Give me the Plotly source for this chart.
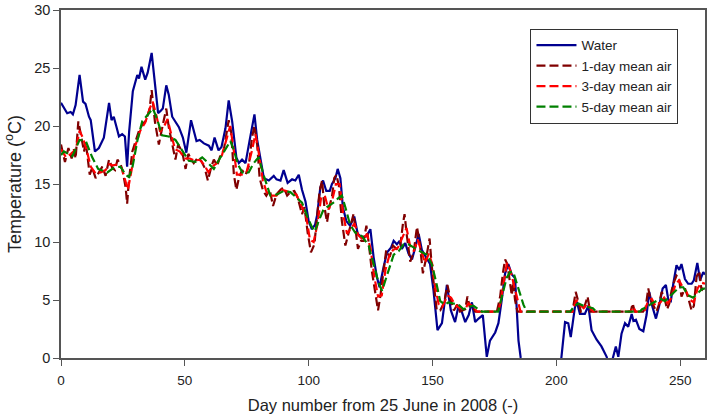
import plotly.graph_objects as go

# ---- Water temperature (day, value) ----
water_day = [0, 2.5, 3.9, 4.8, 5.9, 7.5, 8.9, 9.9, 11.3, 12, 13.7, 15.3, 17.3, 19.4, 20.4, 21.3, 22.3, 23.4, 24.7, 25.8,
             26.7, 27.5, 29, 30.8, 31.5, 32.5, 34, 35, 36.6, 38.2, 39.2, 40.2, 41.1, 42.5, 43.5, 44.9, 46.2, 47.6, 49.2,
             50.6, 52.5, 54.7, 56, 57.7, 59.7, 60.8, 62, 63.6, 64.8, 66.4, 67.7, 69.1, 70.8, 71.8, 73.1, 74.5, 76.1,
             78.1, 79.2, 80.5, 81.9, 83.9, 85.9, 87, 88.6, 89.9, 91.5, 93.3, 94.6, 96, 97.3, 98.7, 100, 101.3, 102.6,
             103.4, 104.7, 105.8, 107.1, 108.5, 109.4, 110.8, 111.7, 112.8, 113.8, 115.2, 116.7, 118.4, 119.8, 121.5,
             123.3, 124.9, 126.2, 127.5, 128.6, 130.2, 131.6, 133.2, 134.3, 135.6, 136.7, 137.6, 139, 140.3, 141.7,
             143, 144.4, 145.7, 147.5, 149, 150.4, 152, 153.8, 155.8, 157.4, 159.1, 160.5, 161.8, 163.2, 164.6, 165.9,
             167.2, 168.6, 170.3, 171.9, 173.2, 175.3, 176.6, 178, 179.3, 180.6, 182, 183.3, 184.7, 185.6, 187, 195,
             201, 202, 203.5, 204.8, 205.8, 207.5, 208.3, 209.5, 211.5, 212.9, 214.2, 216.2, 218.2, 220.3, 221.5,
             222.8, 224, 225, 226.3, 227.7, 229, 230.4, 231.1, 232.1, 233.5, 235.1, 236.4, 237.5, 238.8, 240.2,
             241.5, 242.9, 244.2, 245.2, 246.2, 247.2, 248.5, 249.6, 250.5, 251.9, 253.2, 254.6, 255.5, 256.9, 258,
             259.3, 260]
water_val = [22.0, 21.1, 21.2, 21.0, 21.8, 24.4, 22.1, 21.9, 20.8, 20.5, 17.8, 18.1, 19.0, 22.0, 20.5, 20.8, 20.0, 19.1, 19.3, 19.1,
             16.5, 19.5, 23.0, 24.4, 24.1, 25.1, 24.0, 24.6, 26.3, 22.7, 21.1, 21.3, 21.5, 23.5, 22.7, 20.8, 20.4, 19.9, 19.0,
             17.7, 20.5, 18.7, 18.8, 18.5, 18.3, 17.9, 19.0, 17.9, 18.2, 19.8, 22.2, 20.4, 17.3, 16.8, 17.1, 16.8, 18.7,
             21.0, 18.8, 17.3, 15.5, 15.3, 15.7, 15.4, 15.3, 16.2, 15.1, 15.4, 15.3, 15.8, 14.5, 13.5, 11.8, 11.1, 11.5,
             12.3, 14.7, 15.3, 14.4, 14.4, 15.0, 15.5, 16.3, 15.5, 13.0, 11.8, 11.4, 12.2, 10.7, 10.4,
             10.5, 11.1, 8.7, 7.0, 6.1, 7.8, 9.1, 9.5, 10.1, 9.8, 10.1, 9.4, 9.9, 9.0, 8.5,
             9.5, 10.7, 9.3, 8.6, 8.1, 5.8, 2.4, 3.0, 6.3, 4.1, 3.1, 4.5, 4.0, 3.1, 3.7, 4.8,
             3.1, 3.4, 3.7, 0.1, 1.5, 2.2, 3.0, 5.1, 7.3, 8.1, 7.2, 6.9, 1.5, 0.0, -1.5, -2.0,
             -0.5, 0.0, 3.1, 3.0, 1.8, 4.4, 4.8, 3.8, 3.8, 4.5, 2.4, 1.6, 1.0, 0.1, -1.0,
             0.0, 1.0, 0.1, 2.1, 3.0, 2.7, 3.8, 3.2, 3.3, 2.5, 2.3, 3.7, 5.7, 4.4, 3.4,
             4.5, 6.0, 6.3, 5.0, 4.9, 6.4, 8.0, 7.6, 8.1, 6.8, 6.4, 6.4, 6.7, 8.2, 6.7,
             7.4, 7.2]

# ---- 1-day mean air temperature ----
air1_day = [0, 1.6, 3, 4.3, 5.2, 5.9, 7, 8.4, 9.3, 10, 11.6, 12.6, 14, 15.3, 16.7, 18, 19.4, 20.7, 21.8, 22.8, 24.2, 24.9,
            26.1, 26.7, 27.4, 28.8, 30.4, 31.5, 32.8, 34.4, 35.8, 36.6, 37.9, 39.5, 41.1, 42.5, 43.5, 44.9, 46.2, 47.3,
            48.9, 50.3, 51.4, 52.3, 53.6, 55, 56.6, 58, 59.3, 60.7, 61.7, 63.1, 64.4, 65.7, 66.8, 67.7, 68.7, 69.8,
            70.8, 71.8, 73.1, 74.5, 75.8, 77.1, 78.1, 79.2, 80.2, 81.6, 82.9, 84.3, 85.6, 87, 88.6, 89.9, 91.3, 92.6,
            94.2, 95.6, 97.3, 98.3, 99.6, 100.9, 102.3, 103.4, 104.4, 105.4, 106.3, 107.4, 108.5, 109.4, 110.3, 111.2,
            112.2, 113.4, 114.8, 115.9, 117.1, 118.1, 119.2, 119.9, 121.1, 122.2, 123.3, 124.2, 125.5, 126.9, 128,
            128.9, 130.2, 131.3, 132.7, 134, 135.6, 137, 138, 138.7, 139.6, 141, 142.4, 143.7, 144.8, 146.1, 147.5,
            148.8, 149.7, 150.7, 151.7, 153.1, 154.7, 156, 157.3, 158.6, 160, 161.1, 163.2, 164.1, 165, 165.8, 167.2,
            176, 177.3, 178.4, 179.3, 180.2, 181, 182, 182.6, 183.3, 184.3, 206.5, 207.8, 208.9, 209.9, 211, 212.6,
            213.6, 230, 230.8, 231.6, 235, 236, 237.1, 238, 239, 240.4, 241.4, 242.5, 243.5, 244.7, 245.6, 246.5,
            247.4, 248.5, 249.5, 250.5, 251.9, 253.2, 254.6, 255.5, 256.6, 257.7, 258.6, 260]
air1_val = [18.4, 16.9, 18.1, 17.2, 18.0, 17.2, 20.4, 18.8, 17.8, 18.6, 15.8, 16.4, 15.5, 16.0, 16.5, 15.7, 17.1, 16.4, 16.2, 17.1, 16.6, 16.1,
            14.7, 13.3, 15.3, 17.8, 19.0, 19.6, 20.1, 20.5, 21.5, 23.1, 20.4, 18.4, 20.1, 21.5, 19.9, 18.3, 17.1, 18.4,
            17.8, 16.3, 17.6, 17.2, 16.8, 17.2, 17.0, 16.4, 15.3, 16.5, 17.1, 16.6, 17.5, 17.9, 19.5, 20.5, 19.5, 15.8,
            14.5, 15.5, 16.2, 15.8, 16.5, 19.0, 20.0, 18.4, 15.5, 14.4, 14.0, 14.5, 13.1, 14.1, 14.5, 14.7, 14.0, 14.3,
            14.4, 13.8, 12.4, 13.0, 10.8, 9.1, 9.8, 12.1, 14.4, 15.3, 13.1, 11.7, 13.2, 13.9, 15.5, 15.8,
            14.8, 11.8, 9.7, 10.6, 11.6, 12.4, 10.6, 9.4, 10.1, 10.1, 11.4, 10.0, 7.5, 5.5, 4.1,
            5.3, 7.5, 9.3, 8.7, 9.7, 9.4, 9.7, 11.5, 12.4, 10.6, 8.3, 9.1, 11.3, 10.0, 7.3, 8.7,
            10.3, 7.9, 5.8, 4.1, 4.1, 4.8, 6.3, 5.0, 4.1, 4.6, 4.0, 4.2, 5.3, 4.4, 4.6, 4.0,
            4.0, 5.3, 7.3, 8.5, 8.1, 7.0, 5.4, 6.6, 5.0, 4.0, 4.0, 5.7, 4.7, 4.0, 4.2, 5.3,
            4.0, 4.0, 4.7, 4.0, 4.0, 4.3, 6.0, 5.0, 4.6, 4.0, 4.6, 5.7, 5.3, 4.2, 4.7, 5.8,
            6.5, 7.1, 6.9, 5.3, 6.0, 5.2, 4.1, 4.5, 7.0, 7.5, 5.8, 6.3]

# ---- 3-day mean air temperature ----
air3_day = [0, 2, 4, 6, 7.5, 9, 10.5, 12, 14, 16, 18, 19.5, 21, 23, 24.5, 26, 27, 28.5, 30, 32, 34, 36, 37, 38.5, 40,
            41.5, 43, 44.5, 46, 48, 50, 52, 54, 56, 58, 59.5, 61, 63, 65, 67, 68.3, 69.5, 71, 73, 75, 77, 78.5, 80,
            81.5, 83, 85, 87, 89, 91, 93, 95, 97, 99, 100.5, 102, 103.5, 105, 106.5, 108, 109.5, 111, 112.5, 114,
            115.5, 117, 118.5, 120, 122, 123.5, 125, 126.5, 128, 129.5, 131, 132.5, 134, 136, 138, 139.5, 141,
            142.5, 144, 145.5, 147, 148.5, 150, 151, 152.5, 154, 156, 157.5, 159, 161, 163, 164.5, 166, 168,
            176.5, 177.5, 178.8, 180, 181.5, 183, 184.5, 185.5, 206.5, 208, 209.5, 211, 212.5, 214, 215, 230, 231,
            232, 235.5, 237, 238.5, 240, 242, 243.5, 245, 246.5, 248, 249.5, 251, 252.5, 254, 255.5, 257, 258.5, 260]
air3_val = [18.0, 17.3, 17.6, 18.0, 19.6, 18.9, 17.8, 16.5, 15.9, 16.0, 16.2, 16.7, 16.6, 16.7, 16.4, 15.2, 14.5, 16.2, 18.3, 19.6, 20.3, 21.6, 22.1, 20.9, 19.5,
            19.9, 20.6, 19.3, 18.0, 17.8, 17.2, 17.2, 17.0, 17.1, 16.6, 16.0, 16.5, 16.8, 17.5, 19.0, 20.0, 18.3, 15.8, 15.8, 16.1, 17.8, 19.3, 17.5,
            15.3, 14.3, 14.0, 14.0, 14.5, 14.4, 14.2, 14.1, 13.1, 12.2, 10.2, 10.0, 11.5, 13.8, 14.0, 12.8, 13.6, 15.0, 15.0, 12.3,
            10.7, 11.1, 11.6, 10.6, 10.2, 10.7, 9.4, 7.0, 5.3, 5.4, 7.6, 8.8, 9.3, 9.5, 10.5, 11.2, 9.6,
            9.2, 10.2, 9.2, 8.2, 9.0, 8.0, 6.2, 4.6, 4.4, 5.4, 5.2, 4.6, 4.3, 4.2, 4.7, 4.5, 4.0,
            4.0, 4.8, 6.7, 8.2, 7.5, 6.2, 4.8, 4.0, 4.0, 5.0, 4.6, 4.3, 4.7, 4.2, 4.0, 4.0, 4.4,
            4.0, 4.0, 4.9, 5.1, 4.5, 4.8, 5.2, 4.7, 5.2, 6.3, 6.7, 6.1, 5.7, 5.0, 4.8, 6.0, 6.5, 6.4]

# ---- 5-day mean air temperature ----
air5_day = [0, 1.2, 4.6, 7.5, 10, 12.6, 15, 18.7, 21.3, 24, 26.1, 27.4, 28.8, 30.8, 32.8, 35.2, 37.1, 38.8, 40.8, 43.5,
            46.2, 49.2, 51.6, 54.3, 57, 59, 61.7, 64.4, 67.1, 68.4, 69.8, 71.4, 73.5, 75.8, 77.8, 79.8, 81.9, 84.5,
            87.2, 89.9, 92.6, 95.3, 97.3, 99.6, 101.3, 102.5, 104, 106, 108, 110, 112.1, 113.4, 114.8, 116.7, 118.8,
            121.5, 124.2, 126.2, 128.2, 129.6, 130.9, 132.7, 134.3, 136.3, 138.3, 140.3, 142.4, 145, 147.7, 149.7,
            151.5, 153.1, 155.1, 156.4, 158.4, 160.5, 162.5, 164.6, 166.5, 168.6, 169.9, 176.5, 177.3, 178.6, 179.9,
            181.3, 182.6, 184, 185.6, 186.7, 188, 205.6, 207.3, 208.9, 210.9, 212.8, 214.7, 216, 233.7, 234.6, 236.6,
            238.5, 240.5, 242.1, 243.8, 245.8, 247.8, 249.6, 251.2, 253.2, 255.2, 256.6, 258.6, 260]
air5_val = [17.5, 17.8, 17.4, 18.8, 18.7, 17.3, 16.3, 16.0, 16.4, 16.5, 15.8, 15.6, 16.4, 18.7, 20.4, 21.0, 21.5, 20.6, 19.2, 19.1,
            18.8, 17.8, 17.0, 16.9, 17.3, 16.9, 16.3, 17.3, 18.3, 18.7, 17.9, 16.7, 15.9, 16.0, 16.8, 17.3, 15.7, 14.0,
            14.1, 14.4, 14.3, 13.8, 13.4, 12.1, 11.3, 10.9, 11.8, 12.8, 13.1, 13.4, 13.8, 14.0, 13.0, 11.5, 10.8,
            10.5, 9.7, 8.1, 6.5, 5.8, 6.7, 7.9, 8.9, 9.2, 9.8, 9.8, 9.5, 9.2, 8.9, 8.1,
            6.5, 4.9, 4.6, 4.8, 4.7, 4.6, 4.2, 4.4, 4.5, 4.2, 4.0, 4.0, 4.6, 5.8, 6.9,
            7.4, 7.4, 6.4, 5.3, 4.6, 4.0, 4.0, 4.5, 4.7, 4.5, 4.4, 4.3, 4.0, 4.0, 4.2, 4.4,
            4.7, 4.9, 5.1, 4.9, 5.3, 5.7, 6.1, 6.1, 5.4, 5.2, 5.5, 5.9, 6.0]

series_names = ["Water", "1-day mean air", "3-day mean air", "5-day mean air"]
x_ticks = [0, 50, 100, 150, 200, 250]
y_ticks = [0, 5, 10, 15, 20, 25, 30]

fig = go.Figure()
fig.add_trace(go.Scatter(x=water_day, y=water_val, mode="lines", name=series_names[0],
                         line=dict(color="#000090", width=2.2)))
fig.add_trace(go.Scatter(x=air1_day, y=air1_val, mode="lines", name=series_names[1],
                         line=dict(color="#800000", width=2.2, dash="9px,4px")))
fig.add_trace(go.Scatter(x=air3_day, y=air3_val, mode="lines", name=series_names[2],
                         line=dict(color="#FF0000", width=2.2, dash="9px,4px")))
fig.add_trace(go.Scatter(x=air5_day, y=air5_val, mode="lines", name=series_names[3],
                         line=dict(color="#008000", width=2.2, dash="9px,4px")))

fam = "Liberation Sans, Arial, sans-serif"
fig.update_layout(
    width=709, height=418,
    margin=dict(l=61, r=2, t=8, b=60),
    paper_bgcolor="white", plot_bgcolor="white",
    font=dict(family=fam, size=14, color="#222222"),
    showlegend=True,
    legend=dict(x=0.729, y=0.946, xanchor="left", yanchor="top",
                bordercolor="#333333", borderwidth=1, bgcolor="white",
                font=dict(family=fam, size=13.5, color="#222222"),
                tracegroupgap=0, itemwidth=40),
)
fig.update_xaxes(range=[0, 260], tickvals=x_ticks, ticks="outside", ticklen=6, tickcolor="#555555",
                 showline=True, linecolor="#555555", linewidth=1.5, mirror=True, showgrid=False, zeroline=False,
                 ticklabelstandoff=3,
                 title=dict(text="Day number from 25 June in 2008 (-)", font=dict(family=fam, size=16.5), standoff=12),
                 tickfont=dict(family=fam, size=13.5, color="#222222"))
fig.update_yaxes(range=[0, 30], tickvals=y_ticks, ticks="outside", ticklen=6, tickcolor="#555555",
                 showline=True, linecolor="#555555", linewidth=1.5, mirror=True, showgrid=False, zeroline=False,
                 title=dict(text="Temperature (<sup>o</sup>C)", font=dict(family=fam, size=18), standoff=8),
                 tickfont=dict(family=fam, size=14.5, color="#222222"))

fig.write_html("out.html", post_script="document.body.style.margin='0';",
               config={"displayModeBar": False})
